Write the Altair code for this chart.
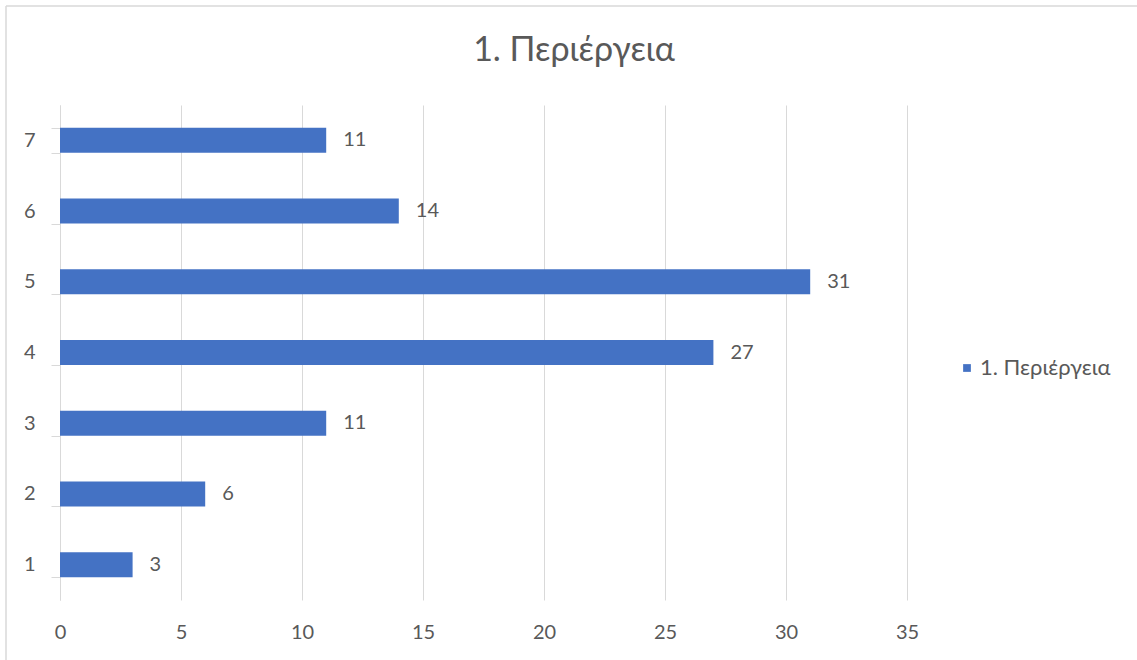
import altair as alt
import pandas as pd

categories = ["1", "2", "3", "4", "5", "6", "7"]
values = [3, 6, 11, 27, 31, 14, 11]
series_name = "1. Περιέργεια"
title_text = "1. Περιέργεια"
x_ticks = [0, 5, 10, 15, 20, 25, 30, 35]

df = pd.DataFrame({"cat": categories, "val": values, "series": [series_name] * len(categories)})

FONT = "Lato"
TXT = "#595959"
GRID = "#D9D9D9"
BAR = "#4472C4"
FS = 20

y_enc = alt.Y(
    "cat:N",
    sort=categories[::-1],
    scale=alt.Scale(paddingInner=0.646, paddingOuter=0.323),
    axis=alt.Axis(
        title=None,
        domainColor=GRID,
        tickColor=GRID,
        tickSize=9,
        tickBand="extent",
        labelPadding=16,
        labelFontSize=FS,
        labelColor=TXT,
        labelFont=FONT,
        grid=False,
    ),
)
x_enc = alt.X(
    "val:Q",
    scale=alt.Scale(domain=[0, 35], nice=False),
    axis=alt.Axis(
        title=None,
        values=x_ticks,
        grid=True,
        gridColor=GRID,
        domain=False,
        ticks=False,
        labelFlush=False,
        labelPadding=22,
        labelFontSize=FS,
        labelColor=TXT,
        labelFont=FONT,
    ),
)

bars = alt.Chart(df).mark_bar(color=BAR).encode(
    x=x_enc,
    y=y_enc,
    color=alt.Color(
        "series:N",
        scale=alt.Scale(range=[BAR]),
        legend=alt.Legend(
            title=None,
            orient="none",
            legendX=896,
            legendY=252,
            symbolType="square",
            symbolSize=60,
            symbolStrokeWidth=0,
            labelFontSize=22,
            labelColor=TXT,
            labelFont=FONT,
            labelOffset=2,
        ),
    ),
)

labels = alt.Chart(df).mark_text(
    align="left", baseline="middle", dx=17, fontSize=FS, color=TXT, font=FONT
).encode(x="val:Q", y=alt.Y("cat:N", sort=categories[::-1]), text="val:Q")

frame_df = pd.DataFrame({"a": [0]})
top_border = alt.Chart(frame_df).mark_rule(color=GRID, strokeWidth=1.5).encode(
    x=alt.value(-54), x2=alt.value(1100), y=alt.value(-99)
)
left_border = alt.Chart(frame_df).mark_rule(color=GRID, strokeWidth=1.5).encode(
    x=alt.value(-54), y=alt.value(-99), y2=alt.value(600)
)
title_mark = alt.Chart(pd.DataFrame({"t": [title_text]})).mark_text(
    align="center", baseline="middle", fontSize=34, color=TXT, font=FONT
).encode(x=alt.value(514), y=alt.value(-54), text="t:N")

chart = (
    alt.layer(top_border, left_border, title_mark, bars, labels)
    .properties(
        width=847,
        height=495,
        padding={"left": 60, "top": 105, "right": 230, "bottom": 60},
        autosize=alt.AutoSizeParams(type="none"),
    )
    .configure(background="white", view=alt.ViewConfig(stroke=None))
)

chart.save("out.html", embed_options={"renderer": "svg", "actions": False})
